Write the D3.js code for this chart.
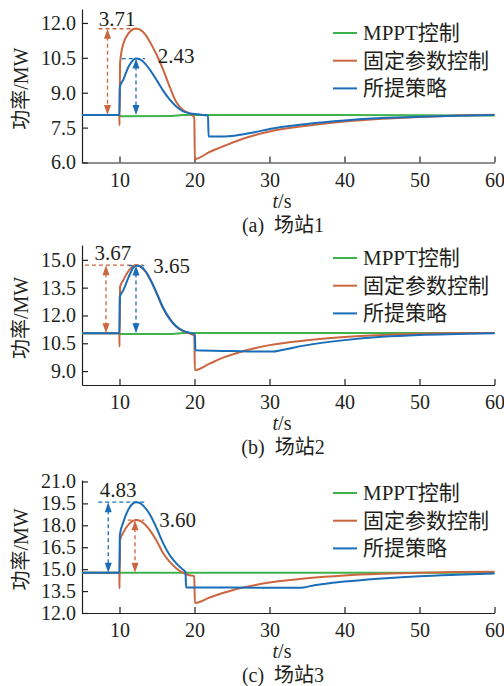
<!DOCTYPE html>
<meta charset="utf-8">
<script src="https://d3js.org/d3.v7.min.js"></script>
<style>
  body { margin: 0; background: #fff; }
  svg text { font-family: "Liberation Serif", "DejaVu Serif", "Noto Sans CJK SC", serif; fill: #231f20; }
</style>
<div id="my_dataviz"></div>
<script>
    // ---- data: [t (s), power (MW)] ----
    const mpptA = [[5, 8.04], [10, 8.04], [10.1, 7.99], [17, 8.0], [18.5, 8.04], [40, 8.04], [60, 8.02]];
    const fixedA = [[5, 8.04], [9.98, 8.04], [10, 7.6], [10.08, 10.3], [10.5, 11.1], [11.2, 11.55], [11.8, 11.73], [12.2, 11.76],
        [12.8, 11.7], [13.5, 11.48], [14.2, 11.1], [15, 10.6], [15.8, 10.0], [16.7, 9.25], [17.6, 8.58], [18.5, 8.25], [19.4, 8.1],
        [19.97, 7.94], [20.05, 6.15], [22, 6.45], [24, 6.72], [26, 6.97], [28, 7.17], [30, 7.33], [35, 7.58], [40, 7.76],
        [45, 7.88], [50, 7.96], [55, 8.02], [60, 8.05]];
    const propA = [[5, 8.04], [9.98, 8.04], [10.05, 9.25], [10.5, 9.55], [11.2, 10.12], [11.8, 10.4], [12.2, 10.47], [12.8, 10.42],
        [13.5, 10.22], [14.2, 9.92], [15, 9.52], [15.8, 9.1], [16.7, 8.7], [17.6, 8.4], [18.5, 8.2], [19.4, 8.11], [20.5, 8.07], [21.8, 8.02],
        [21.88, 7.12], [24, 7.12], [25, 7.14], [26, 7.19], [28, 7.3], [30, 7.44], [35, 7.66], [40, 7.81], [45, 7.91], [50, 7.97],
        [55, 8.01], [60, 8.04]];

    const mpptB = [[5, 11.04], [10, 11.04], [10.1, 11.0], [17, 11.0], [18.5, 11.05], [60, 11.06]];
    const fixedB = [[5, 11.04], [9.98, 11.04], [10, 10.32], [10.08, 13.55], [10.5, 13.9], [11.2, 14.4], [11.8, 14.66], [12.2, 14.71],
        [12.8, 14.64], [13.5, 14.35], [14.2, 13.85], [15, 13.15], [15.8, 12.4], [16.7, 11.8], [17.6, 11.38], [18.5, 11.15], [19.4, 11.02],
        [19.97, 10.9], [20.05, 9.05], [22, 9.4], [24, 9.75], [26, 10.02], [28, 10.23], [30, 10.4], [35, 10.66], [40, 10.84],
        [45, 10.95], [50, 11.02], [55, 11.05], [60, 11.06]];
    const propB = [[5, 11.04], [9.98, 11.04], [10.05, 13.02], [10.5, 13.35], [11.2, 14.05], [11.8, 14.55], [12.2, 14.69], [12.8, 14.64],
        [13.5, 14.37], [14.2, 13.87], [15, 13.17], [15.8, 12.43], [16.7, 11.82], [17.6, 11.4], [18.5, 11.17], [19.4, 11.06], [20.05, 11.0],
        [20.12, 10.12], [25, 10.08], [30.5, 10.05], [31.5, 10.12], [33, 10.25], [35, 10.4], [40, 10.67], [45, 10.85], [50, 10.95],
        [55, 11.0], [60, 11.04]];

    const mpptC = [[5, 14.75], [60, 14.75]];
    const fixedC = [[5, 14.75], [9.98, 14.75], [10, 13.68], [10.08, 17.0], [10.5, 17.5], [11.2, 18.05], [11.8, 18.3], [12.2, 18.36],
        [12.8, 18.28], [13.5, 18.0], [14.2, 17.55], [15, 16.9], [15.8, 16.1], [16.7, 15.5], [17.6, 15.05], [18.5, 14.75], [19.2, 14.6],
        [19.97, 14.52], [20.05, 12.69], [22, 13.05], [24, 13.4], [26, 13.7], [28, 13.9], [30, 14.08], [35, 14.38], [40, 14.57],
        [45, 14.68], [50, 14.75], [55, 14.8], [60, 14.82]];
    const propC = [[5, 14.75], [9.98, 14.75], [10.05, 17.34], [10.5, 18.2], [11.2, 19.1], [11.8, 19.5], [12.2, 19.58], [12.8, 19.5],
        [13.5, 19.15], [14.2, 18.6], [15, 17.75], [15.8, 16.8], [16.7, 15.95], [17.6, 15.38], [18.5, 14.95], [18.8, 14.8], [18.88, 13.74],
        [25, 13.74], [34, 13.72], [36, 13.9], [38, 14.04], [40, 14.15], [45, 14.36], [50, 14.52], [55, 14.62], [60, 14.7]];

    // peak increments: [series, base, peak, label]
    const peaksA = [["fixed", 8.04, 11.75, "3.71"], ["prop", 8.04, 10.47, "2.43"]];
    const peaksB = [["fixed", 11.04, 14.71, "3.67"], ["prop", 11.04, 14.69, "3.65"]];
    const peaksC = [["prop", 14.75, 19.58, "4.83"], ["fixed", 14.75, 18.35, "3.60"]];

    const legendNames = ["MPPT控制", "固定参数控制", "所提策略"];
    const xTicks = [10, 20, 30, 40, 50, 60];
    const yTicksA = [6, 7.5, 9, 10.5, 12];
    const yTicksB = [9, 10.5, 12, 13.5, 15];
    const yTicksC = [12, 13.5, 15, 16.5, 18, 19.5, 21];

    // ---- styling / layout ----
    const colors = { mppt: "#3cb44b", fixed: "#cc6640", prop: "#1b6db8" };
    const W = 504, H = 686;
    const xLeft = 82, xRight = 494.5;
    const FONT = '"Liberation Serif", "DejaVu Serif", "Noto Sans CJK SC", serif';

    const panels = [
        { top: 9, bottom: 162.5, domain: [6, 12.6], yTicks: yTicksA, series: { mppt: mpptA, fixed: fixedA, prop: propA },
          peaks: peaksA, legendY: 33, caption: "(a)  场站1",
          // annotation layout: [hline t0, hline t1, arrow t, label t, label anchor, label dy]
          annot: [[7.2, 12.8, 8.4, 9.67, "middle", -3], [10.3, 13.4, 12.2, 15.1, "start", 4]] },
        { top: 245, bottom: 385, domain: [8.25, 15.8], yTicks: yTicksB, series: { mppt: mpptB, fixed: fixedB, prop: propB },
          peaks: peaksB, legendY: 258, caption: "(b)  场站2",
          annot: [[5.4, 13.2, 8.2, 9.13, "middle", -5], [11.2, 13.3, 12.2, 14.5, "start", 7]] },
        { top: 480, bottom: 613, domain: [12, 21.1], yTicks: yTicksC, series: { mppt: mpptC, fixed: fixedC, prop: propC },
          peaks: peaksC, legendY: 493, caption: "(c)  场站3",
          annot: [[7.17, 13.4, 8.5, 9.8, "middle", -5], [11.1, 13.3, 12.07, 15.3, "start", 7]] }
    ];

    const svg = d3.select("#my_dataviz")
        .append("svg")
        .attr("width", W)
        .attr("height", H);

    const x = d3.scaleLinear().domain([5, 60]).range([xLeft, xRight]);

    function styleAxis(a) {
        a.attr("font-family", null).attr("font-size", null);
        a.selectAll("text").attr("font-size", 20).style("font-family", FONT).attr("fill", "#231f20");
        a.selectAll("line,path").attr("stroke", "#231f20").attr("stroke-width", 1.2);
    }

    panels.forEach(function (p) {
        const y = d3.scaleLinear().domain(p.domain).range([p.bottom, p.top]);
        const g = svg.append("g");

        // axes
        g.append("g")
            .attr("transform", `translate(0, ${p.bottom})`)
            .call(d3.axisBottom(x).tickValues(xTicks).tickSize(-6).tickSizeOuter(0).tickPadding(10).tickFormat(d3.format("d")))
            .call(styleAxis);

        g.append("g")
            .attr("transform", `translate(${xLeft}, 0)`)
            .call(d3.axisLeft(y).tickValues(p.yTicks).tickSize(-6).tickSizeOuter(0).tickPadding(6).tickFormat(d3.format(".1f")))
            .call(styleAxis);

        // curves
        const line = d3.line()
            .x(d => x(d[0]))
            .y(d => y(d[1]))
            .curve(d3.curveMonotoneX);

        ["mppt", "fixed", "prop"].forEach(function (k) {
            g.append("path")
                .datum(p.series[k])
                .attr("fill", "none")
                .attr("stroke", colors[k])
                .attr("stroke-width", 2)
                .attr("d", line);
        });

        // peak annotations
        p.peaks.forEach(function (pk, i) {
            const [key, base, peak, label] = pk;
            const [t0, t1, ta, tl, anchor, dy] = p.annot[i];
            const c = colors[key];
            g.append("line")
                .attr("x1", x(t0)).attr("x2", x(t1))
                .attr("y1", y(peak)).attr("y2", y(peak))
                .attr("stroke", c).attr("stroke-width", 1.3)
                .attr("stroke-dasharray", "4,3");
            const ax = x(ta), yTop = y(peak), yBot = y(base);
            g.append("line")
                .attr("x1", ax).attr("x2", ax)
                .attr("y1", yTop + 8).attr("y2", yBot - 8)
                .attr("stroke", c).attr("stroke-width", 1.3)
                .attr("stroke-dasharray", "4,3");
            g.append("path")
                .attr("d", `M${ax},${yTop} L${ax - 3.5},${yTop + 10} L${ax + 3.5},${yTop + 10} Z`)
                .attr("fill", c);
            g.append("path")
                .attr("d", `M${ax},${yBot} L${ax - 3.5},${yBot - 10} L${ax + 3.5},${yBot - 10} Z`)
                .attr("fill", c);
            g.append("text")
                .attr("x", x(tl))
                .attr("y", y(peak) + dy)
                .attr("text-anchor", anchor)
                .attr("font-size", 21)
                .style("font-family", FONT)
                .text(label);
        });

        // legend
        ["mppt", "fixed", "prop"].forEach(function (k, i) {
            const ly = p.legendY + i * 27.7;
            g.append("line")
                .attr("x1", 333).attr("x2", 357)
                .attr("y1", ly).attr("y2", ly)
                .attr("stroke", colors[k]).attr("stroke-width", 2);
            g.append("text")
                .attr("x", 363)
                .attr("y", ly + 7)
                .attr("font-size", 21)
                .style("font-family", FONT)
                .text(legendNames[i]);
        });

        // y label
        g.append("text")
            .attr("transform", `translate(28, ${(p.top + p.bottom) / 2 + 3}) rotate(-90)`)
            .attr("text-anchor", "middle")
            .attr("font-size", 20)
            .style("font-family", FONT)
            .text("功率/MW");

        // x label
        const xl = g.append("text")
            .attr("x", 282)
            .attr("y", p.bottom + 45)
            .attr("text-anchor", "middle")
            .attr("font-size", 20)
            .style("font-family", FONT);
        xl.append("tspan").attr("font-style", "italic").text("t");
        xl.append("tspan").text("/s");

        // caption
        g.append("text")
            .attr("x", 283)
            .attr("y", p.bottom + 69)
            .attr("text-anchor", "middle")
            .attr("font-size", 20)
            .style("font-family", FONT)
            .style("white-space", "pre")
            .text(p.caption);
    });
</script>
